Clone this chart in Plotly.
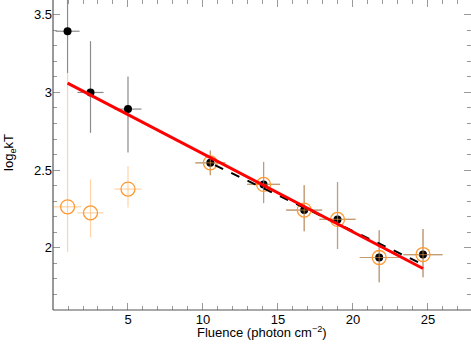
import plotly.graph_objects as go

# fluence bins (photon cm^-2) and their half widths
fluence = [0.97, 2.5, 5.0, 10.49, 14.04, 16.75, 18.97, 21.75, 24.67]
fluence_err = [0.8, 0.87, 0.9, 1.0, 1.1, 1.2, 1.2, 1.3, 1.3]

# black points: log_e kT with asymmetric errors
logkt_black = [3.394, 3.0, 2.893, 2.547, 2.408, 2.243, 2.183, 1.938, 1.957]
black_up = [0.30, 0.33, 0.21, 0.08, 0.145, 0.16, 0.24, 0.176, 0.165]
black_dn = [0.27, 0.26, 0.28, 0.08, 0.12, 0.136, 0.19, 0.16, 0.147]

# orange open circles
fluence_orange_err = [0.9, 0.87, 0.9, 1.0, 1.1, 1.2, 1.2, 1.3, 1.3]
logkt_orange = [2.264, 2.225, 2.378, 2.547, 2.408, 2.243, 2.183, 1.938, 1.957]
orange_up = [0.86, 0.215, 0.148, 0.08, 0.145, 0.16, 0.24, 0.176, 0.165]
orange_dn = [0.29, 0.158, 0.118, 0.08, 0.12, 0.136, 0.19, 0.16, 0.147]

# linear fits
red_fit_x = [0.97, 24.67]
red_fit_y = [3.06, 1.867]
dash_fit_x = [10.8, 24.67]
dash_fit_y = [2.532, 1.893]

fig = go.Figure()

fig.add_trace(go.Scatter(
    x=fluence, y=logkt_black, mode="markers",
    marker=dict(color="black", size=8),
    error_y=dict(type="data", symmetric=False, array=black_up, arrayminus=black_dn,
                 color="#8c8c8c", thickness=1.2, width=0),
    error_x=dict(type="data", array=fluence_err, color="#8c8c8c", thickness=1.2, width=0),
    showlegend=False,
))

fig.add_trace(go.Scatter(
    x=fluence, y=logkt_orange, mode="markers",
    marker=dict(symbol="circle-open", color="#ff9933", size=14, line=dict(width=1.3)),
    error_y=dict(type="data", symmetric=False, array=orange_up, arrayminus=orange_dn,
                 color="rgba(255,170,80,0.5)", thickness=1.2, width=0),
    error_x=dict(type="data", array=fluence_orange_err, color="rgba(255,170,80,0.5)",
                 thickness=1.2, width=0),
    showlegend=False,
))

fig.add_trace(go.Scatter(
    x=dash_fit_x, y=dash_fit_y, mode="lines",
    line=dict(color="black", width=2, dash="dash"), showlegend=False,
))
fig.add_trace(go.Scatter(
    x=red_fit_x, y=red_fit_y, mode="lines",
    line=dict(color="#ff0000", width=3), showlegend=False,
))

axis_common = dict(
    showgrid=False, zeroline=False, showline=False, mirror="ticks",
    ticks="inside", ticklen=7, tickcolor="#999999", tickwidth=1,
    tickfont=dict(size=13, color="black"), automargin=False,
)

fig.update_xaxes(
    range=[0, 27.87], tickvals=[5, 10, 15, 20, 25],
    minor=dict(ticks="inside", ticklen=4, dtick=1, tickcolor="#999999"),
    **axis_common,
)
fig.update_yaxes(
    range=[1.6, 3.595], tickvals=[2, 2.5, 3, 3.5], ticktext=["2", "2.5", "3", "3.5"],
    minor=dict(ticks="inside", ticklen=4, dtick=0.1, tick0=1.6, tickcolor="#999999"),
    **axis_common,
)

# left and bottom axis lines only (top edge is cut off in the original)
fig.add_shape(type="line", xref="paper", yref="paper", x0=0, x1=0, y0=0, y1=1,
              line=dict(color="#555555", width=1.2))
fig.add_shape(type="line", xref="paper", yref="paper", x0=0, x1=1, y0=0, y1=0,
              line=dict(color="#555555", width=1.2))

# axis titles
fig.add_annotation(text="Fluence (photon cm<sup>−2</sup>)", xref="paper", yref="paper",
                   x=0.5, y=-0.04, yanchor="top", showarrow=False,
                   font=dict(size=13, color="black"))
fig.add_annotation(text="log<sub>e</sub>kT", xref="paper", yref="paper",
                   x=-0.128, y=0.51, textangle=-90, showarrow=False,
                   font=dict(size=13, color="black"))

fig.update_layout(
    width=471, height=345,
    margin=dict(l=53, r=0, t=0, b=35),
    plot_bgcolor="white", paper_bgcolor="white",
    font=dict(family="Liberation Sans, Arial, sans-serif", color="black"),
)

fig.write_html("out.html", config={"displayModeBar": False},
               post_script="document.body.style.margin='0';")
